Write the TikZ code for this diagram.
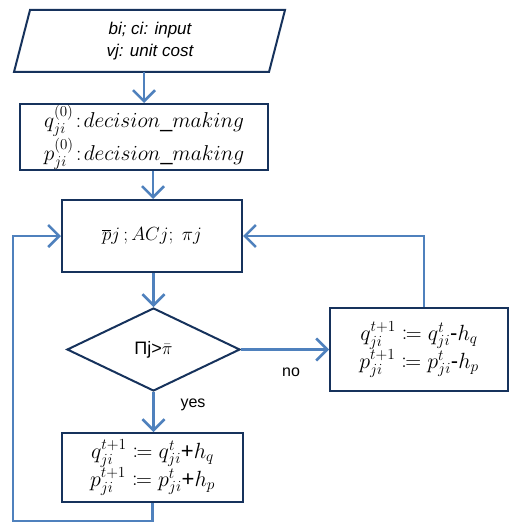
\RequirePackage{fix-cm}
\documentclass[tikz,border=0pt]{standalone}
\usepackage{mathtools}
\usepackage{fontspec}
\setmainfont{Liberation Sans}
\usetikzlibrary{arrows.meta,shapes.geometric}
\definecolor{navy}{RGB}{22,50,92}
\definecolor{arrblue}{RGB}{79,129,189}
\begin{document}
\begin{tikzpicture}[x=1pt,y=-1pt,
  box/.style={draw=navy,line width=2pt,fill=white,inner sep=0pt,align=center,font=\fontsize{19}{29}\selectfont},
  bigmath/.style={font=\fontsize{22}{28}\selectfont},
  flow/.style={draw=arrblue,line width=2.5pt,-{Straight Barb[length=11pt,width=22pt]}},
  lbl/.style={font=\fontsize{16}{19}\selectfont}]
\useasboundingbox (0,0) rectangle (509,524);
% input parallelogram
\draw[draw=navy,line width=2pt,fill=white] (30,10) -- (285,10) -- (269,72) -- (14,72) -- cycle;
\node[minimum width=240pt,minimum height=62pt,inner sep=0pt,align=center,font=\fontsize{17}{22}\selectfont\itshape] (in) at (150,41) {bi; ci: input\\vj: unit cost};
\node[box,font=\fontsize{21.5}{33}\selectfont,minimum width=248pt,minimum height=66pt] (init) at (144,137)
  {$q_{ji}^{(0)}\!:\!decision\_making$\\$p_{ji}^{(0)}\!:\!decision\_making$};
\node[box,minimum width=180pt,minimum height=72pt] (calc) at (152,236)
  {$\overline{p}j\,;ACj;\ \pi j$};
\node[box,diamond,aspect=2.08,minimum width=173pt,minimum height=83pt] (dec) at (153.5,349.5)
  {\fontsize{18}{21}\selectfont Πj>$\bar{\pi}$};
\node[box,bigmath,minimum width=178pt,minimum height=83pt] (minus) at (419,349.5)
  {$q_{ji}^{t+1}\coloneqq q_{ji}^{t}$-$h_q$\\$p_{ji}^{t+1}\coloneqq p_{ji}^{t}$-$h_p$};
\node[box,bigmath,minimum width=181pt,minimum height=69pt] (plus) at (152.5,467.5)
  {$q_{ji}^{t+1}\coloneqq q_{ji}^{t}$+$h_q$\\$p_{ji}^{t+1}\coloneqq p_{ji}^{t}$+$h_p$};
\coordinate (lb) at (13,521);
% connectors
\draw[flow] (init.north |- in.south) -- (init.north);
\draw[flow] ([xshift=1pt]calc.north |- init.south) -- ([xshift=1pt]calc.north);
\draw[flow] (dec.north |- calc.south) -- (dec.north);
\draw[flow] (dec.east) -- (minus.west);
\draw[flow] (dec.south) -- (dec.south |- plus.north);
\draw[flow] ([xshift=5pt]minus.north) |- (calc.east);
\draw[flow] (plus.south) |- (lb) |- (calc.west);
\node[lbl] (no) at (291,372) {no};
\node[lbl] (yes) at (193,405) {yes};
\end{tikzpicture}
\end{document}
